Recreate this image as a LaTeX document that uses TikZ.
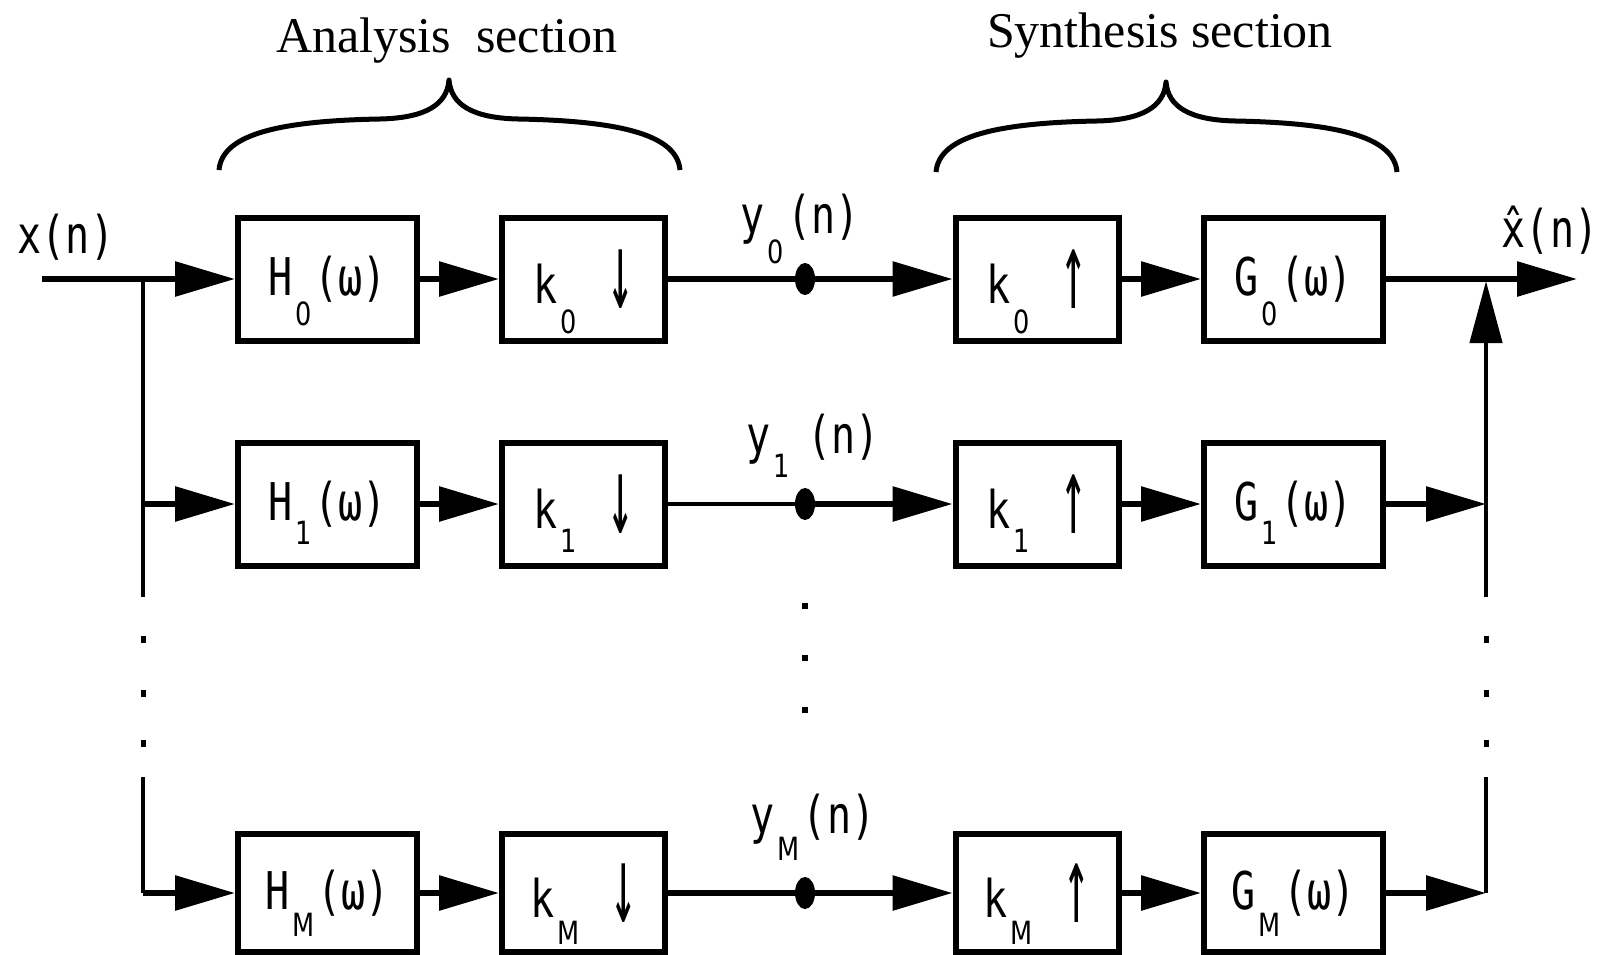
\documentclass[tikz,border=0pt]{standalone}
\usepackage{fontspec}
\setmainfont{Liberation Serif}
\newfontfamily\blkfont[FakeStretch=0.77]{DejaVu Sans Mono}
\newfontfamily\subfont[FakeStretch=0.8]{DejaVu Sans}
\usetikzlibrary{arrows.meta,shapes.geometric}
\newcommand{\sbs}[2][30]{\hspace{3pt}\raisebox{-#1pt}[0pt][0pt]{\subfont\fontsize{32}{32}\selectfont #2}\hspace{3pt}}
\newcommand{\dnar}{\raisebox{-5pt}{\scalebox{1.1}[2.1]{↓}}}
\newcommand{\upar}{\raisebox{-5pt}{\scalebox{1.1}[2.1]{↑}}}
\tikzset{
  blk/.style={draw, line width=6pt, minimum width=179pt, minimum height=123pt, inner sep=0pt,
    font=\blkfont\fontsize{52}{52}\selectfont},
  kbox/.style={minimum width=163pt},
  lowrow/.style={minimum height=118pt},
  lbl/.style={inner sep=0pt, font=\blkfont\fontsize{52}{52}\selectfont},
  head/.style={inner sep=0pt, font=\fontsize{50}{50}\selectfont},
  conn/.style={line width=6pt},
  thinconn/.style={line width=3.5pt},
  vbus/.style={line width=4.5pt, line cap=square},
  tip/.style={-{Triangle[length=60pt,width=34pt]}},
  uptip/.style={-{Triangle[length=62pt,width=32pt]}},
  sig/.style={ellipse, fill=black, minimum width=20pt, minimum height=32pt, inner sep=0pt},
  brace/.style={line width=5pt, line join=round}
}
\begin{document}
\begin{tikzpicture}[x=1pt,y=-1pt]
\useasboundingbox (0,0) rectangle (1608,955);
% headings and braces
\node[head, anchor=base] (ana) at (447,53) {Analysis\ \ section};
\node[head, anchor=base] (syn) at (1160,48) {Synthesis section};
\draw[brace] (219,170) .. controls (222,137) and (270,121) .. (380,119)
  .. controls (425,118) and (447,105) .. (449,80)
  .. controls (451,105) and (473,118) .. (518,119)
  .. controls (628,121) and (677,137) .. (680,170);
\begin{scope}[xshift=717pt,yshift=-2pt]
\draw[brace] (219,170) .. controls (222,137) and (270,121) .. (380,119)
  .. controls (425,118) and (447,105) .. (449,80)
  .. controls (451,105) and (473,118) .. (518,119)
  .. controls (628,121) and (677,137) .. (680,170);
\end{scope}
% row 0
\node[blk] (h0) at (327.5,279) {H\sbs{0}(ω)};
\node[blk,kbox] (kd0) at (583.5,279) {k\sbs{0}\hspace{28pt}\dnar};
\node[blk,kbox] (ku0) at (1037,279) {k\sbs{0}\hspace{28pt}\upar};
\node[blk] (g0) at (1293.5,279) {G\sbs{0}(ω)};
\node[sig] (d0) at (805,279) {};
% row 1
\node[blk] (h1) at (327.5,504) {H\sbs[24]{1}(ω)};
\node[blk,kbox] (kd1) at (583.5,504) {k\sbs[24]{1}\hspace{28pt}\dnar};
\node[blk,kbox] (ku1) at (1037,504) {k\sbs[24]{1}\hspace{28pt}\upar};
\node[blk] (g1) at (1293.5,504) {G\sbs[24]{1}(ω)};
\node[sig] (d1) at (805,504) {};
% row M
\node[blk,lowrow] (hm) at (327.5,893) {H\sbs[27]{M}(ω)};
\node[blk,kbox,lowrow] (kdm) at (583.5,893) {k\sbs[27]{M}\hspace{28pt}\dnar};
\node[blk,kbox,lowrow] (kum) at (1037,893) {k\sbs[27]{M}\hspace{28pt}\upar};
\node[blk,lowrow] (gm) at (1293.5,893) {G\sbs[27]{M}(ω)};
\node[sig] (dm) at (805,893) {};
% labels
\node[lbl, anchor=base] (lx) at (66,253) {x(n)};
\node[lbl, anchor=base] (lxh) at (1550,247) {\^{x}(n)};
\node[lbl, anchor=base] (ly0) at (800,233) {y\sbs{0}(n)};
\node[lbl, anchor=base] (ly1) at (813,453) {y\sbs[24]{1}\hspace{14pt}(n)};
\node[lbl, anchor=base] (lym) at (813,833) {y\sbs[27]{M}(n)};
% coordinates
\coordinate (xin) at (42,279);
\coordinate (j0) at (143,279);
\coordinate (j1) at (143,504);
\coordinate (jm) at (143,893);
\coordinate (lend) at (143,597);
\coordinate (lres) at (143,777);
\coordinate (out) at (1577,279);
\coordinate (r0) at (1486,281);
\coordinate (r1) at (1486,504);
\coordinate (rm) at (1486,893);
\coordinate (rend) at (1486,597);
\coordinate (rres) at (1486,777);
% input and left bus
\draw[conn,tip] (xin) -- (h0);
\draw[vbus] (j0) -- (lend);
\draw[vbus] (lres) -- (jm);
\draw[conn,tip] (j1) -- (h1);
\draw[conn,tip] (jm) -- (hm);
% row connectors
\draw[conn,tip] (h0) -- (kd0);
\draw[conn] (kd0) -- (d0);
\draw[conn,tip] (d0) -- (ku0);
\draw[conn,tip] (ku0) -- (g0);
\draw[conn,tip] (g0) -- (out);
\draw[conn,tip] (h1) -- (kd1);
\draw[thinconn] (kd1) -- (d1);
\draw[conn,tip] (d1) -- (ku1);
\draw[conn,tip] (ku1) -- (g1);
\draw[conn,tip] (g1) -- (r1);
\draw[conn,tip] (hm) -- (kdm);
\draw[conn] (kdm) -- (dm);
\draw[conn,tip] (dm) -- (kum);
\draw[conn,tip] (kum) -- (gm);
\draw[conn,tip] (gm) -- (rm);
% right bus
\draw[vbus,uptip] (rend) -- (r0);
\draw[vbus] (rres) -- (rm);
% dots
\foreach \yy in {639,693,743} {
  \fill (140.5,\yy-3.5) rectangle ++(5,7);
  \fill (1483.5,\yy-3.5) rectangle ++(5,7);
}
\foreach \yy in {606,658,710} {
  \fill (802,\yy-3) rectangle ++(6,6);
}
\end{tikzpicture}
\end{document}
